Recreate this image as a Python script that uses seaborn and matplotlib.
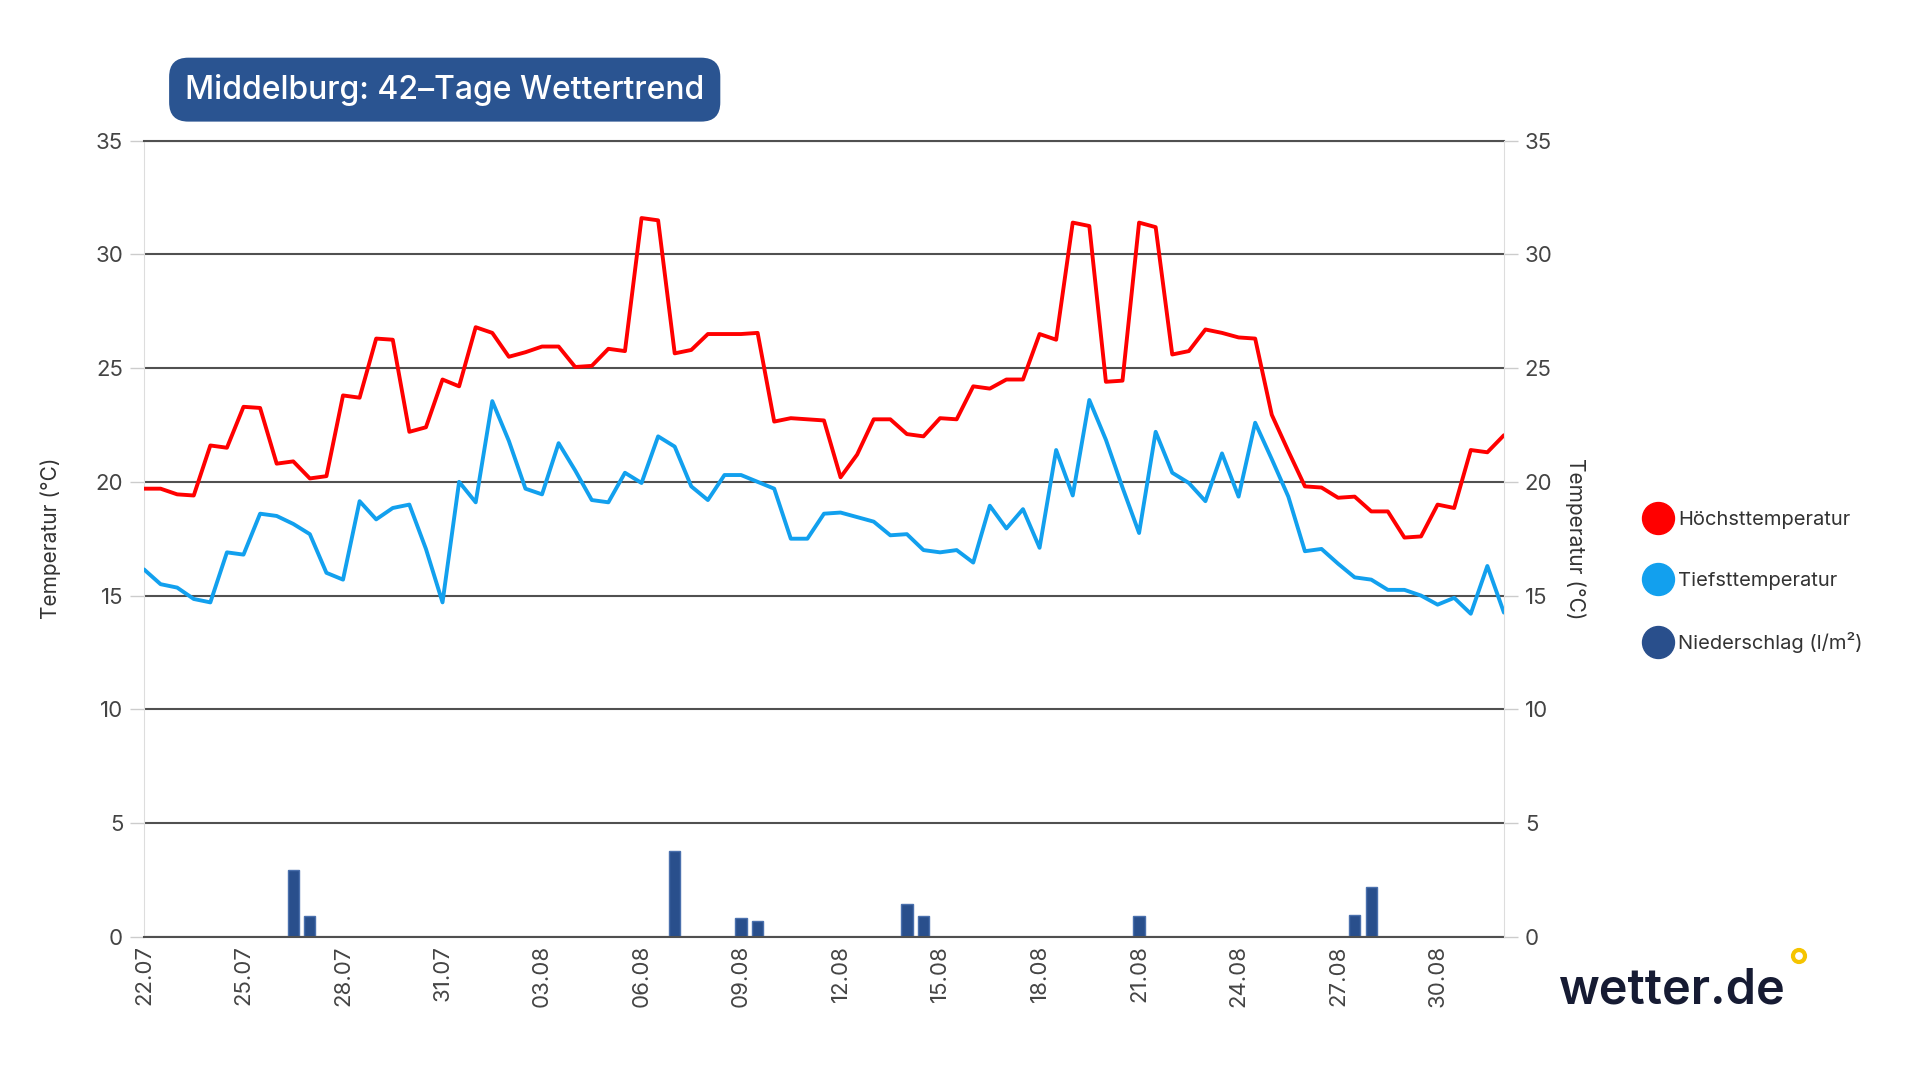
import pandas as pd
import seaborn as sns
import matplotlib.pyplot as plt
import matplotlib.dates as mdates
from matplotlib.lines import Line2D
from matplotlib.patches import Ellipse

# --- data: 42-Tage-Trend Middelburg, two values per day (00 / 12 Uhr) ---
zeit = pd.date_range("2025-07-22", periods=83, freq="12h")

t_max = [19.7, 19.7, 19.45, 19.4, 21.6, 21.5, 23.3, 23.25, 20.8, 20.9,
         20.15, 20.25, 23.8, 23.7, 26.3, 26.25, 22.2, 22.4, 24.5, 24.2,
         26.8, 26.55, 25.5, 25.7, 25.95, 25.95, 25.05, 25.1, 25.85, 25.75,
         31.6, 31.5, 25.65, 25.8, 26.5, 26.5, 26.5, 26.55, 22.65, 22.8,
         22.75, 22.7, 20.2, 21.2, 22.75, 22.75, 22.1, 22.0, 22.8, 22.75,
         24.2, 24.1, 24.5, 24.5, 26.5, 26.25, 31.4, 31.25, 24.4, 24.45,
         31.4, 31.2, 25.6, 25.75, 26.7, 26.55, 26.35, 26.3, 22.95, 21.35,
         19.8, 19.75, 19.3, 19.35, 18.7, 18.7, 17.55, 17.6, 19.0, 18.85,
         21.4, 21.3, 22.05]

t_min = [16.15, 15.5, 15.35, 14.85, 14.7, 16.9, 16.8, 18.6, 18.5, 18.15,
         17.7, 16.0, 15.7, 19.15, 18.35, 18.85, 19.0, 17.05, 14.7, 20.0,
         19.1, 23.55, 21.8, 19.7, 19.45, 21.7, 20.5, 19.2, 19.1, 20.4,
         19.95, 22.0, 21.55, 19.8, 19.2, 20.3, 20.3, 20.0, 19.7, 17.5,
         17.5, 18.6, 18.65, 18.45, 18.25, 17.65, 17.7, 17.0, 16.9, 17.0,
         16.45, 18.95, 17.95, 18.8, 17.1, 21.4, 19.4, 23.6, 21.85, 19.75,
         17.75, 22.2, 20.4, 19.95, 19.15, 21.25, 19.35, 22.6, 21.0, 19.35,
         16.95, 17.05, 16.4, 15.8, 15.7, 15.25, 15.25, 15.0, 14.6, 14.9,
         14.2, 16.3, 14.25]

regen_zeit = pd.to_datetime(["2025-07-26 12:00", "2025-07-27 00:00",
                             "2025-08-07 00:00", "2025-08-09 00:00",
                             "2025-08-09 12:00", "2025-08-14 00:00",
                             "2025-08-14 12:00", "2025-08-21 00:00",
                             "2025-08-27 12:00", "2025-08-28 00:00"])
regen_mm = [2.95, 0.9, 3.75, 0.8, 0.7, 1.45, 0.9, 0.9, 0.95, 2.2]

# x tick dates, every third day
tick_tage = pd.date_range("2025-07-22", "2025-08-30", freq="3D")

labels = ["Höchsttemperatur", "Tiefsttemperatur", "Niederschlag (l/m²)"]
farben = ["#ff0000", "#12a0ee", "#294f8c"]

sns.set_style("white")
plt.rcParams["font.family"] = ["Inter", "DejaVu Sans"]

fig = plt.figure(figsize=(19.2, 10.8), dpi=100)
ax = fig.add_axes([0.075, 0.1327, 0.7083, 0.737])

# precipitation bars
ax.bar(regen_zeit, regen_mm, width=0.34, color=farben[2],
       edgecolor="#4a70ad", linewidth=1, zorder=2)

sns.lineplot(x=zeit, y=t_max, color=farben[0], linewidth=2.8, ax=ax,
             zorder=3, solid_joinstyle="round")
sns.lineplot(x=zeit, y=t_min, color=farben[1], linewidth=2.8, ax=ax,
             zorder=3, solid_joinstyle="round")

ax.set_xlim(pd.Timestamp("2025-07-22"), pd.Timestamp("2025-09-01"))
ax.set_ylim(0, 35)
ax.set_yticks(range(0, 36, 5))
ax.set_xticks(tick_tage)
ax.xaxis.set_major_formatter(mdates.DateFormatter("%d.%m"))
ax.set_axisbelow(True)
ax.yaxis.grid(True, color="#505050", linewidth=1.5)
ax.xaxis.grid(False)

for s in ["top", "bottom"]:
    ax.spines[s].set_color("#505050")
    ax.spines[s].set_linewidth(1.5)
ax.spines["left"].set_color("#dddddd")
ax.spines["right"].set_visible(False)

ax.tick_params(axis="y", length=10, width=1, color="#cccccc",
               labelsize=16, labelcolor="#444444", pad=5)
ax.tick_params(axis="x", length=0, labelsize=16, labelcolor="#444444",
               rotation=90, pad=6)
ax.set_xlabel("")
ax.set_ylabel("Temperatur (°C)", fontsize=15, color="#333333")
ax.yaxis.set_label_coords(-0.061, 0.5)

ax2 = ax.twinx()
ax2.set_ylim(0, 35)
ax2.set_yticks(range(0, 36, 5))
for s in ["top", "bottom", "left"]:
    ax2.spines[s].set_visible(False)
ax2.spines["right"].set_color("#dddddd")
ax2.tick_params(axis="y", length=10, width=1, color="#cccccc",
                labelsize=16, labelcolor="#444444", pad=5)
ax2.set_ylabel("Temperatur (°C)", fontsize=15, color="#333333", rotation=270)
ax2.yaxis.set_label_coords(1.060, 0.5)

# title box
fig.text(0.0964, 0.917, "Middelburg: 42–Tage Wettertrend", fontsize=23,
         fontweight="medium", color="white", va="center", ha="left",
         bbox=dict(boxstyle="round,pad=0.5,rounding_size=0.6",
                   fc="#2a5491", ec="none"))

# legend
handles = [Line2D([], [], marker="o", linestyle="", markersize=23, color=c)
           for c in farben]
fig.legend(handles, labels, loc="center left",
           bbox_to_anchor=(1648 / 1920, 1 - 582 / 1080), frameon=False,
           fontsize=14.5, handlelength=1.0, handletextpad=0.5,
           labelspacing=2.1, borderpad=0, borderaxespad=0,
           labelcolor="#333333")

# logo
fig.text(1559 / 1920, 1 - 990 / 1080, "wetter.de", fontsize=35,
         fontweight="semibold", color="#161b33", va="center", ha="left")
fig.add_artist(Ellipse((1799 / 1920, 1 - 956 / 1080), 12 / 1920, 12 / 1080,
                       fc="none", ec="#f5c400", lw=3,
                       transform=fig.transFigure))

fig.savefig("out.png", dpi=100)
